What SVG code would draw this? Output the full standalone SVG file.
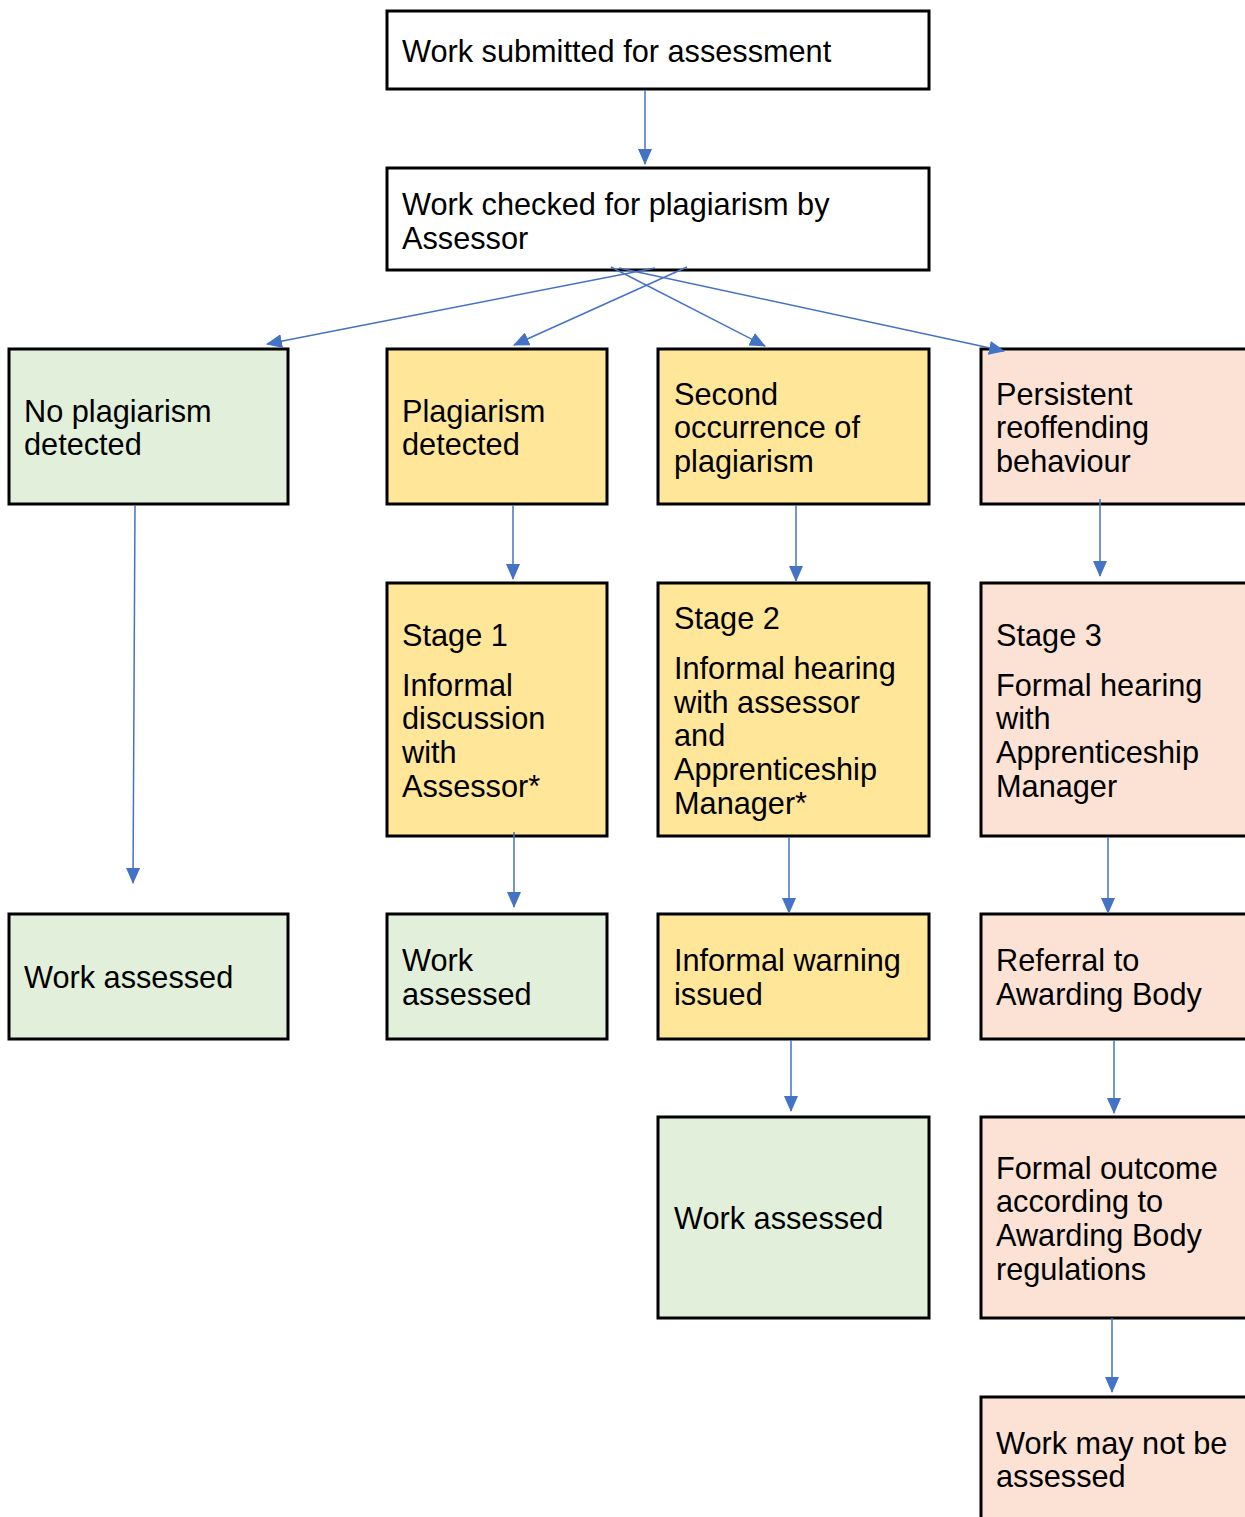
<svg xmlns="http://www.w3.org/2000/svg" width="1245" height="1517" viewBox="0 0 1245 1517">
<defs>
<marker id="ah" markerWidth="16" markerHeight="14" refX="15" refY="7" orient="auto" markerUnits="userSpaceOnUse">
<path d="M0,0 L16,7 L0,14 Z" fill="#4472C4"/>
</marker>
<style>
.box{stroke:#000;stroke-width:3}
.w{fill:#fff}
.g{fill:#E2EFDA}
.y{fill:#FFE699}
.p{fill:#FBE2D5}
text{font-family:"Liberation Sans",Arial,sans-serif;font-size:30.7px;fill:#000}
.c line{stroke:#4472C4;stroke-width:1.5;marker-end:url(#ah)}
</style>
</defs>
<rect width="1245" height="1517" fill="#fff"/>
<g transform="translate(0,1)">
<g id="n1"><rect class="box w" x="387" y="10" width="542" height="78"/><text x="402" y="61">Work submitted for assessment</text></g>
<g id="n2"><rect class="box w" x="387" y="167" width="542" height="102"/><text x="402" y="214">Work checked for plagiarism by</text><text x="402" y="248">Assessor</text></g>
<g id="n3"><rect class="box g" x="9" y="348" width="279" height="155"/><text x="24" y="421">No plagiarism</text><text x="24" y="454">detected</text></g>
<g id="n4"><rect class="box y" x="387" y="348" width="220" height="155"/><text x="402" y="421">Plagiarism</text><text x="402" y="454">detected</text></g>
<g id="n5"><rect class="box y" x="658" y="348" width="271" height="155"/><text x="674" y="404">Second</text><text x="674" y="437">occurrence of</text><text x="674" y="471">plagiarism</text></g>
<g id="n6"><rect class="box p" x="981" y="348" width="280" height="155"/><text x="996" y="404">Persistent</text><text x="996" y="437">reoffending</text><text x="996" y="471">behaviour</text></g>
<g id="n7"><rect class="box y" x="387" y="582" width="220" height="253"/><text x="402" y="645">Stage 1</text><text x="402" y="695">Informal</text><text x="402" y="728">discussion</text><text x="402" y="762">with</text><text x="402" y="796">Assessor*</text></g>
<g id="n8"><rect class="box y" x="658" y="582" width="271" height="253"/><text x="674" y="628">Stage 2</text><text x="674" y="678">Informal hearing</text><text x="674" y="712">with assessor</text><text x="674" y="745">and</text><text x="674" y="779">Apprenticeship</text><text x="674" y="813">Manager*</text></g>
<g id="n9"><rect class="box p" x="981" y="582" width="280" height="253"/><text x="996" y="645">Stage 3</text><text x="996" y="695">Formal hearing</text><text x="996" y="728">with</text><text x="996" y="762">Apprenticeship</text><text x="996" y="796">Manager</text></g>
<g id="n10"><rect class="box g" x="9" y="913" width="279" height="125"/><text x="24" y="987">Work assessed</text></g>
<g id="n11"><rect class="box g" x="387" y="913" width="220" height="125"/><text x="402" y="970">Work</text><text x="402" y="1004">assessed</text></g>
<g id="n12"><rect class="box y" x="658" y="913" width="271" height="125"/><text x="674" y="970">Informal warning</text><text x="674" y="1004">issued</text></g>
<g id="n13"><rect class="box p" x="981" y="913" width="280" height="125"/><text x="996" y="970">Referral to</text><text x="996" y="1004">Awarding Body</text></g>
<g id="n14"><rect class="box g" x="658" y="1116" width="271" height="201"/><text x="674" y="1228">Work assessed</text></g>
<g id="n15"><rect class="box p" x="981" y="1116" width="280" height="201"/><text x="996" y="1178">Formal outcome</text><text x="996" y="1211">according to</text><text x="996" y="1245">Awarding Body</text><text x="996" y="1279">regulations</text></g>
<g id="n16"><rect class="box p" x="981" y="1396" width="280" height="140"/><text x="996" y="1453">Work may not be</text><text x="996" y="1486">assessed</text></g>
</g>
<g id="connectors" class="c">
<line x1="645" y1="90" x2="645" y2="164"/>
<line x1="655" y1="268" x2="267" y2="344"/>
<line x1="687" y1="267" x2="514" y2="345"/>
<line x1="611" y1="267" x2="765" y2="346"/>
<line x1="619" y1="268" x2="1004" y2="351"/>
<line x1="135" y1="505" x2="133" y2="883"/>
<line x1="513" y1="505" x2="513" y2="579"/>
<line x1="796" y1="505" x2="796" y2="581"/>
<line x1="1100" y1="499" x2="1100" y2="576"/>
<line x1="514" y1="832" x2="514" y2="907"/>
<line x1="789" y1="837" x2="789" y2="913"/>
<line x1="1108" y1="837" x2="1108" y2="913"/>
<line x1="791" y1="1040" x2="791" y2="1111"/>
<line x1="1114" y1="1040" x2="1114" y2="1113"/>
<line x1="1112" y1="1318" x2="1112" y2="1392"/>
</g>
</svg>
